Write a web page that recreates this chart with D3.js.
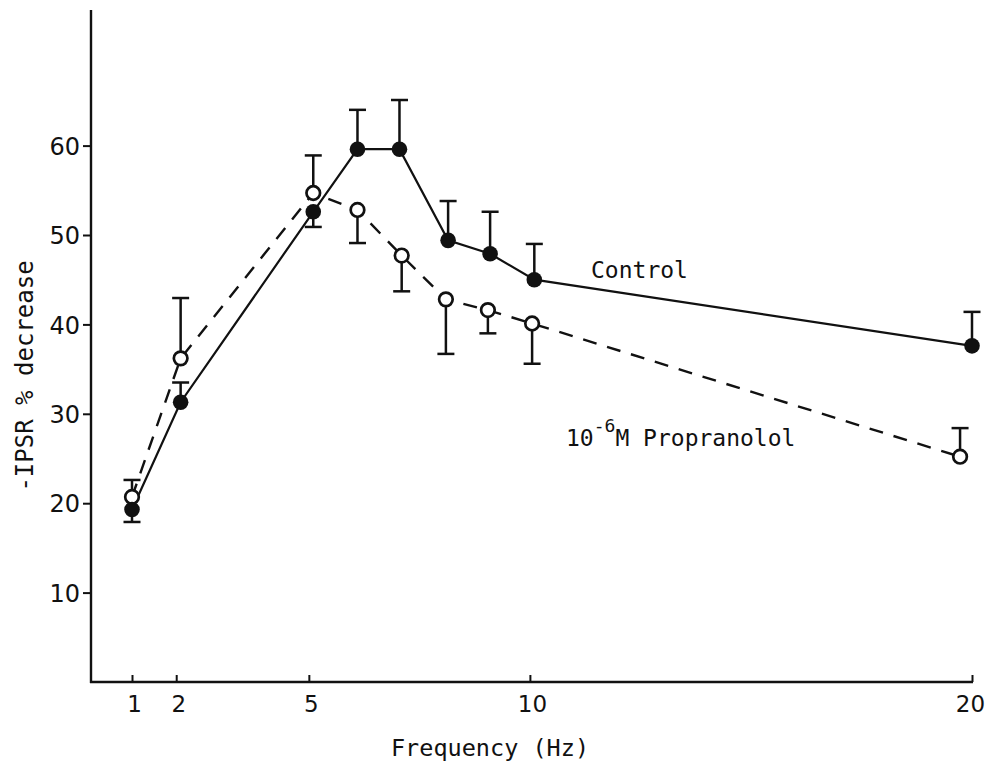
<!DOCTYPE html>
<html>
<head>
<meta charset="utf-8">
<script src="https://cdn.jsdelivr.net/npm/d3@7/dist/d3.min.js"></script>
<style>
  html, body { margin: 0; padding: 0; background: #fff; }
  svg { display: block; }
  .mono { font-family: "DejaVu Sans Mono", monospace; fill: #111; }
  .tick text { font-family: "DejaVu Sans", sans-serif; fill: #111; }
</style>
</head>
<body>
<svg id="chart" width="986" height="766"></svg>
<script>
// Stimulation frequency (Hz) and IPSR decrease (%) for each condition
const freqControl = [1, 2.1, 5.1, 6.1, 7.05, 8.15, 9.1, 10.1, 20];
const control = [19.3, 31.3, 52.6, 59.6, 59.6, 49.4, 47.9, 45.0, 37.6];
const controlErrEnd = [17.9, 33.5, 50.9, 64.0, 65.1, 53.8, 52.6, 49.0, 41.4];

const freqProp = [1, 2.1, 5.1, 6.1, 7.1, 8.1, 9.05, 10.05, 19.73];
const propranolol = [20.7, 36.2, 54.7, 52.8, 47.7, 42.8, 41.6, 40.1, 25.2];
const propErrEnd = [22.6, 42.95, 58.9, 49.1, 43.7, 36.7, 39.0, 35.6, 28.4];

const xTicks = [1, 2, 5, 10, 20];
const yTicks = [10, 20, 30, 40, 50, 60];

const svg = d3.select("#chart");
const ink = "#111";

const x = d3.scaleLinear().domain([1, 20]).range([132, 972]);
const y = d3.scaleLinear().domain([0, 75]).range([682, 11.5]);
const axisX = 91;

// Axes
const gx = svg.append("g").attr("transform", `translate(0,${y(0)})`)
  .call(d3.axisTop(x).tickValues(xTicks).tickSize(7).tickSizeOuter(0).tickFormat(d3.format("d")));
gx.select(".domain").remove();
gx.selectAll(".tick line").attr("stroke", ink).attr("stroke-width", 2);
gx.selectAll(".tick text")
  .attr("y", 30).attr("dy", 0)
  .attr("font-size", 23)
  .attr("dx", d => d === 20 ? -2 : 2);
svg.append("line")
  .attr("x1", axisX - 1).attr("x2", x(20) + 1)
  .attr("y1", y(0)).attr("y2", y(0))
  .attr("stroke", ink).attr("stroke-width", 2.6);

const gy = svg.append("g").attr("transform", `translate(${axisX},0)`)
  .call(d3.axisLeft(y).tickValues(yTicks).tickSize(8).tickPadding(3).tickFormat(d3.format("d")));
gy.select(".domain").remove();
gy.selectAll(".tick line").attr("stroke", ink).attr("stroke-width", 2);
gy.selectAll(".tick text").attr("font-size", 24).attr("dy", "0.36em");
svg.append("line")
  .attr("x1", axisX).attr("x2", axisX)
  .attr("y1", 10).attr("y2", y(0) + 1)
  .attr("stroke", ink).attr("stroke-width", 2.4);

// Error bars (one-sided, with caps)
function errorBars(fx, vals, ends) {
  const g = svg.append("g").attr("stroke", ink).attr("stroke-width", 2.5);
  vals.forEach((v, i) => {
    const cx = x(fx[i]);
    g.append("line").attr("x1", cx).attr("x2", cx)
      .attr("y1", y(v)).attr("y2", y(ends[i]));
    g.append("line").attr("x1", cx - 8.5).attr("x2", cx + 8.5)
      .attr("y1", y(ends[i])).attr("y2", y(ends[i]));
  });
}
errorBars(freqControl, control, controlErrEnd);
errorBars(freqProp, propranolol, propErrEnd);

// Lines
const lineGen = (fx) => d3.line().x((d, i) => x(fx[i])).y(d => y(d));
svg.append("path").datum(propranolol)
  .attr("d", lineGen(freqProp))
  .attr("fill", "none").attr("stroke", ink).attr("stroke-width", 2.4)
  .attr("stroke-dasharray", "14,11");
svg.append("path").datum(control)
  .attr("d", lineGen(freqControl))
  .attr("fill", "none").attr("stroke", ink).attr("stroke-width", 2.2);

// Markers
svg.append("g").selectAll("circle").data(propranolol).join("circle")
  .attr("cx", (d, i) => x(freqProp[i])).attr("cy", d => y(d))
  .attr("r", 6.8).attr("fill", "#fff").attr("stroke", ink).attr("stroke-width", 2.7);
svg.append("g").selectAll("circle").data(control).join("circle")
  .attr("cx", (d, i) => x(freqControl[i])).attr("cy", d => y(d))
  .attr("r", 7.8).attr("fill", ink);

// Series labels
svg.append("text").attr("class", "mono")
  .attr("x", 591).attr("y", 278).attr("font-size", 23)
  .text("Control");
const pl = svg.append("text").attr("class", "mono")
  .attr("x", 566).attr("y", 446).attr("font-size", 23);
pl.append("tspan").text("10");
pl.append("tspan").attr("dy", -14).attr("font-size", 18).text("-6");
pl.append("tspan").attr("dy", 14).text("M Propranolol");

// Axis titles
svg.append("text").attr("class", "mono")
  .attr("x", 490).attr("y", 756).attr("text-anchor", "middle").attr("font-size", 23.5)
  .text("Frequency (Hz)");
svg.append("text").attr("class", "mono")
  .attr("transform", "translate(33,376) rotate(-90)")
  .attr("text-anchor", "middle").attr("font-size", 24)
  .text("-IPSR % decrease");
</script>
</body>
</html>
